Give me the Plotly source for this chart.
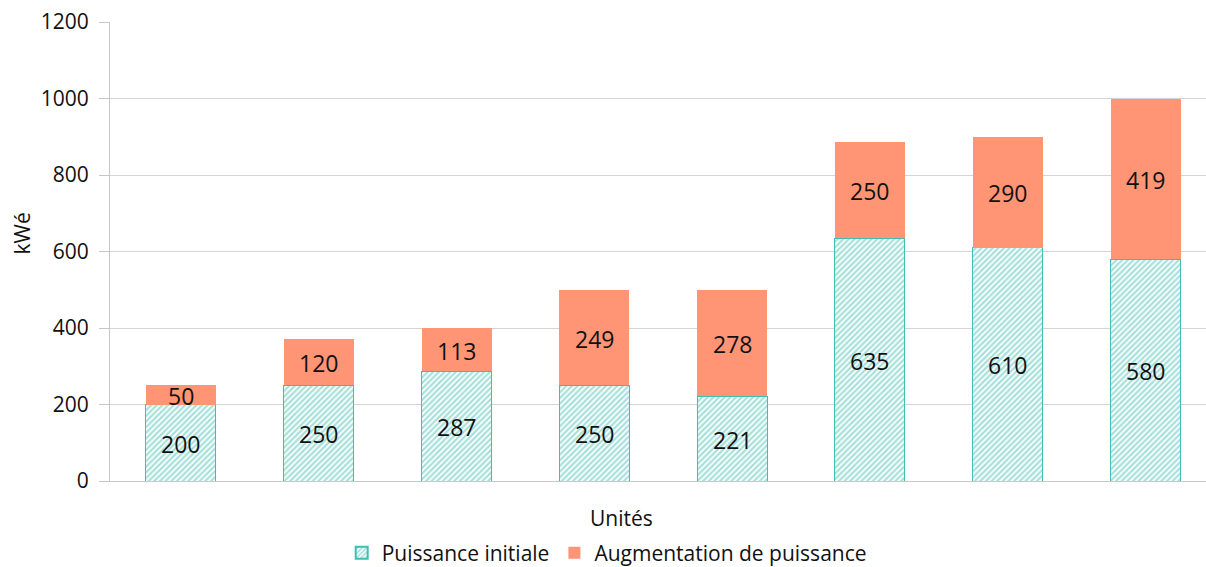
import plotly.graph_objects as go

units = ["U1", "U2", "U3", "U4", "U5", "U6", "U7", "U8"]
initial = [200, 250, 287, 250, 221, 635, 610, 580]
increase = [50, 120, 113, 249, 278, 250, 290, 419]
y_ticks = [0, 200, 400, 600, 800, 1000, 1200]

FONT = "Open Sans"
TEAL_LINE = "#3fbfb2"
TEAL_HATCH = "#4ec2b5"
ORANGE = "#ff9575"

xs = list(range(len(units)))

fig = go.Figure()
fig.add_trace(go.Bar(
    x=xs, y=initial, name="Puissance initiale", width=0.508,
    marker=dict(color="white", line=dict(color=TEAL_LINE, width=1),
                pattern=dict(shape="/", fgcolor=TEAL_HATCH, bgcolor="white",
                             size=4, solidity=0.55)),
    hoverinfo="skip",
))
fig.add_trace(go.Bar(
    x=xs, y=increase, name="Augmentation de puissance", width=0.508,
    marker=dict(color=ORANGE, line=dict(width=0)),
    hoverinfo="skip",
))

# value labels at the middle of each segment (data coordinates)
mid_init = [v / 2 for v in initial]
mid_inc = [a + b / 2 for a, b in zip(initial, increase)]
labels = [
    dict(x=x, y=y, xref="x", yref="y", text=str(v), showarrow=False,
         yshift=-1, font=dict(family=FONT, size=23, color="#111111"))
    for x, y, v in zip(xs + xs, mid_init + mid_inc, initial + increase)
]

fig.update_layout(
    barmode="stack",
    width=1206, height=567,
    margin=dict(l=110, r=0, t=22, b=86, autoexpand=False),
    plot_bgcolor="white", paper_bgcolor="white",
    font=dict(family=FONT, size=21, color="#111111"),
    showlegend=True,
    legend=dict(orientation="h", x=0.2114, xanchor="left", y=-0.157, yanchor="middle",
                font=dict(size=21), itemsizing="constant", traceorder="normal"),
    xaxis=dict(range=[-0.5145, 7.4385], showticklabels=False, ticks="", automargin=False,
               showgrid=False, showline=True, linecolor="#c8c8c8", linewidth=1,
               zeroline=False),
    yaxis=dict(range=[0, 1200], tickvals=y_ticks, ticks="outside", ticklen=10,
               tickcolor="#c8c8c8", showline=True, linecolor="#c8c8c8", automargin=False,
               gridcolor="#d4d4d4", gridwidth=1, zeroline=False,
               ticklabelstandoff=6, tickfont=dict(size=21)),
    annotations=labels + [
        dict(text="Unités", xref="paper", yref="paper", x=0.467, y=-0.08,
             xanchor="center", yanchor="middle", showarrow=False, font=dict(size=21)),
        dict(text="kWé", xref="paper", yref="paper", x=-0.08, y=0.54,
             xanchor="center", yanchor="middle", textangle=-90, showarrow=False,
             font=dict(size=21)),
    ],
)

fig.write_html("out.html", config={"displayModeBar": False},
               post_script="document.body.style.margin='0px';")
